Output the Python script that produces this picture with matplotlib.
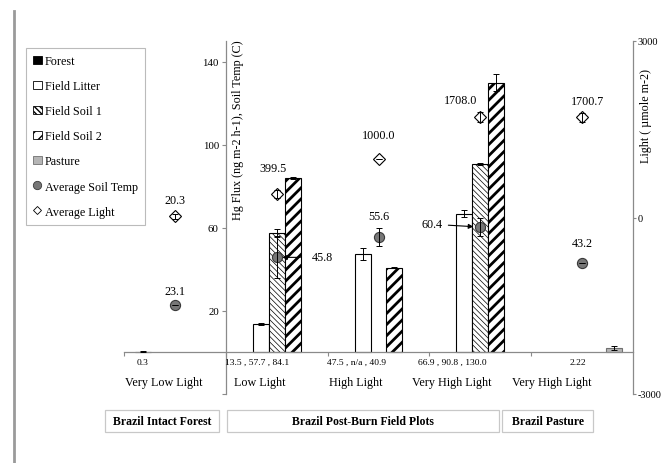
import matplotlib
matplotlib.use('Agg')
import matplotlib.pyplot as plt
import numpy as np
from matplotlib.patches import Rectangle, Patch
from matplotlib.lines import Line2D

plt.rcParams['font.family'] = ['Liberation Serif', 'DejaVu Serif']

nan = np.nan
# ---------------- data ----------------
categories = ['Very Low Light', 'Low Light', 'High Light', 'Very High Light', 'Very High Light']
value_labels = ['0.3', '13.5 , 57.7 , 84.1', '47.5 , n/a , 40.9', '66.9 , 90.8 , 130.0', '2.22']
groups = ['Brazil Intact Forest', 'Brazil Post-Burn Field Plots', 'Brazil Pasture']

series_names = ['Forest', 'Field Litter', 'Field Soil 1', 'Field Soil 2', 'Pasture']
forest = [0.3, nan, nan, nan, nan]
field_litter = [nan, 13.5, 47.5, 66.9, nan]
field_soil1 = [nan, 57.7, nan, 90.8, nan]
field_soil2 = [nan, 84.1, 40.9, 130.0, nan]
pasture = [nan, nan, nan, nan, 2.22]

forest_err = [0.2, nan, nan, nan, nan]
field_litter_err = [nan, 0.5, 3.0, 1.5, nan]
field_soil1_err = [nan, 1.6, nan, 0.5, nan]
field_soil2_err = [nan, 0.5, 0.3, 4.3, nan]
pasture_err = [nan, nan, nan, nan, 1.0]

soil_temp = [23.1, 45.8, 55.6, 60.4, 43.2]
soil_temp_err = [0, 9.8, 4.3, 4.5, 0]
light = [20.3, 399.5, 1000.0, 1708.0, 1700.7]
light_err = [40, 60, 0, 80, 80]

# ---------------- layout ----------------
W, H = 664, 464
fig = plt.figure(figsize=(W / 100, H / 100), dpi=100)
ax = fig.add_axes([124 / W, 1 - 395 / H, 509 / W, 353 / H])
ax.set_xlim(-0.5, 4.5)
ax.set_ylim(-20, 150)
x = np.arange(len(categories))
bw = 0.157
spine_c = '#8a8a8a'

styles = [
    dict(color='black', edgecolor='black', hatch=None, hlw=0.8),
    dict(color='white', edgecolor='black', hatch=None, hlw=0.8),
    dict(color='white', edgecolor='black', hatch='\\\\\\\\\\\\', hlw=0.5),
    dict(color='white', edgecolor='black', hatch='///', hlw=2.0),
    dict(color='#b5b5b5', edgecolor='#707070', hatch=None, hlw=0.8),
]
series = [forest, field_litter, field_soil1, field_soil2, pasture]
errs = [forest_err, field_litter_err, field_soil1_err, field_soil2_err, pasture_err]
handles = []
for i, (vals, err, st) in enumerate(zip(series, errs, styles)):
    with plt.rc_context({'hatch.linewidth': st['hlw']}):
        bars = ax.bar(x + (i - 2) * bw, vals, bw, color=st['color'], edgecolor=st['edgecolor'],
                      linewidth=0.8, hatch=st['hatch'], zorder=2)
        for b in bars:
            if hasattr(b, 'set_hatch_linewidth'):
                b.set_hatch_linewidth(st['hlw'])
        ax.errorbar(x + (i - 2) * bw, vals, yerr=err, fmt='none', ecolor='black',
                    elinewidth=0.7, capsize=2.5, capthick=0.7, zorder=3)
    with plt.rc_context({'hatch.linewidth': min(st['hlw'], 0.6)}):
        h = Patch(facecolor=st['color'], edgecolor=st['edgecolor'], hatch=st['hatch'], linewidth=0.6)
        if hasattr(h, 'set_hatch_linewidth'):
            h.set_hatch_linewidth(min(st['hlw'], 0.6))
    handles.append(h)

# soil temperature points (left axis)
ax.plot(x, soil_temp, 'o', ms=7.3, mfc='#777777', mec='#3a3a3a', mew=0.8, zorder=5)
ax.errorbar(x, soil_temp, yerr=soil_temp_err, fmt='none', ecolor='black',
            elinewidth=0.7, capsize=2.5, capthick=0.7, zorder=6)

# light points (right axis)
ax2 = ax.twinx()
ax2.set_ylim(-3000, 3000)
ax2.plot(x, light, 'D', ms=6.0, mfc='white', mec='black', mew=0.8, zorder=5)
ax2.errorbar(x, light, yerr=light_err, fmt='none', ecolor='black',
             elinewidth=0.7, capsize=2, capthick=0.7, zorder=6)

# point labels
temp_off = [(0, 10), (None, None), (0, 15), (None, None), (0, 14)]
for xi, v, off in zip(x, soil_temp, temp_off):
    if off[0] is None:
        continue
    ax.annotate(f'{v:.1f}', (xi, v), xytext=off, textcoords='offset points',
                ha='center', va='center', fontsize=8.7)
ax.annotate(f'{soil_temp[1]:.1f}', (x[1], soil_temp[1]), xytext=(25, 0), textcoords='offset points',
            ha='left', va='center', fontsize=8.7,
            arrowprops=dict(arrowstyle='-|>', color='black', lw=0.8, shrinkA=6, shrinkB=4,
                            mutation_scale=7))
ax.annotate(f'{soil_temp[3]:.1f}', (x[3], soil_temp[3]), xytext=(-27, 2), textcoords='offset points',
            ha='right', va='center', fontsize=8.7,
            arrowprops=dict(arrowstyle='-|>', color='black', lw=0.8, shrinkA=2, shrinkB=5,
                            mutation_scale=7))
light_off = [(0, 12), (-3, 19), (0, 17), (-14, 12), (4, 12)]
for xi, v, off in zip(x, light, light_off):
    ax2.annotate(f'{v:.1f}', (xi, v), xytext=off, textcoords='offset points',
                 ha='center', va='center', fontsize=8.7)

# spines / ticks
ax.spines['top'].set_visible(False)
ax.spines['right'].set_visible(False)
ax.spines['left'].set_position(('data', 0.5))
ax.spines['bottom'].set_position(('data', 0))
for s in ['left', 'bottom']:
    ax.spines[s].set_color(spine_c)
    ax.spines[s].set_linewidth(0.9)
ax.set_yticks([-20, 20, 60, 100, 140])
ax.set_yticklabels(['', '20', '60', '100', '140'])
ax.set_xticks([-0.5, 0.5, 1.5, 2.5, 3.5])
ax.set_xticklabels([])
ax.tick_params(axis='y', direction='out', length=3, color=spine_c, labelsize=7.8, pad=2)
ax.tick_params(axis='x', direction='out', length=3, color=spine_c)
for s in ['left', 'top', 'bottom']:
    ax2.spines[s].set_visible(False)
ax2.spines['right'].set_color(spine_c)
ax2.spines['right'].set_linewidth(0.9)
ax2.set_yticks([-3000, 0, 3000])
ax2.set_yticklabels(['-3000', '0', '3000'])
ax2.tick_params(axis='y', direction='out', length=2, color=spine_c, labelsize=7.4, pad=1.5)

# axis titles (placed inside as in the original)
ax.text(0.224, 0.751, 'Hg Flux (ng m-2 h-1), Soil Temp (C)', rotation=90, transform=ax.transAxes,
        ha='center', va='center', fontsize=8.7)
ax.text(1.0255, 0.79, 'Light ( \u00b5mole m-2)', rotation=90, transform=ax.transAxes,
        ha='center', va='center', fontsize=8.7, clip_on=False)

# category and value labels under the axis
cat_pos = [-0.107, 0.836, 1.779, 2.722, 3.704]
val_pos = [-0.313, 0.806, 1.779, 2.722, 3.96]
for p, t in zip(cat_pos, categories):
    ax.text(p, -14.2, t, ha='center', va='center', fontsize=8.7)
for p, t in zip(val_pos, value_labels):
    ax.text(p, -4.6, t, ha='center', va='center', fontsize=6.8)

# legend
labels = series_names + ['Average Soil Temp', 'Average Light']
handles += [Line2D([], [], ls='none', marker='o', ms=6, mfc='#777777', mec='#3a3a3a', mew=0.6),
            Line2D([], [], ls='none', marker='D', ms=4.5, mfc='white', mec='black', mew=0.6)]
leg = fig.legend(handles, labels, loc='upper left', bbox_to_anchor=(26 / W, 1 - 49 / H),
                 frameon=True, fancybox=False, edgecolor='#bbbbbb', fontsize=8.7,
                 handlelength=0.7, handleheight=0.7, handletextpad=0.25, labelspacing=1.08,
                 borderpad=0.6, borderaxespad=0, framealpha=1)
leg.get_frame().set_linewidth(0.8)

# group boxes
boxes = [(105, 219), (227, 499), (502, 593)]
for (x0, x1), g in zip(boxes, groups):
    fig.add_artist(Rectangle((x0 / W, 1 - 433 / H), (x1 - x0) / W, 22 / H, transform=fig.transFigure,
                             facecolor='white', edgecolor='#c8c8c8', lw=0.9))
    fig.text((x0 + x1) / 2 / W, 1 - 422 / H, g, ha='center', va='center', fontsize=8.5, fontweight='bold')

# outer frame line
fig.add_artist(Line2D([14 / W, 14 / W], [0, 1 - 12 / H], transform=fig.transFigure, color='#9a9a9a', lw=2))

fig.savefig('out.png', dpi=100)
